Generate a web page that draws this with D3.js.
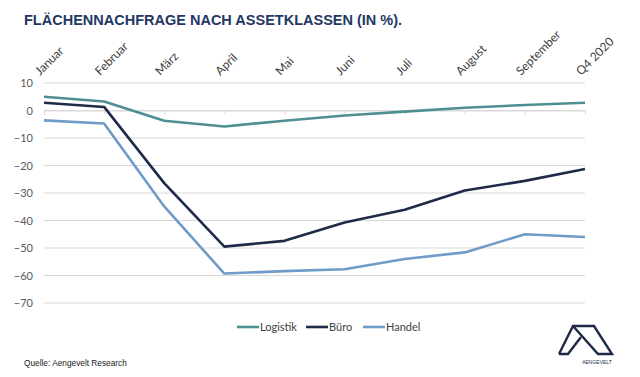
<!DOCTYPE html>
<html>
<head>
<meta charset="utf-8">
<script src="https://cdn.jsdelivr.net/npm/d3@7"></script>
<style>
  body { margin: 0; background: #fff; }
  svg { display: block; }
</style>
</head>
<body>
<div id="chart"></div>
<script>
// data
let months = ["Januar", "Februar", "März", "April", "Mai", "Juni", "Juli", "August", "September", "Q4 2020"];
let logistik = [5, 3.3, -3.7, -5.8, -3.7, -1.8, -0.4, 1, 2, 2.8];
let buero = [2.8, 1.3, -26.4, -49.5, -47.4, -40.7, -36.1, -29.1, -25.6, -21.3];
let handel = [-3.6, -4.7, -34.9, -59.3, -58.4, -57.7, -54, -51.6, -45, -46];
let yTicks = [10, 0, -10, -20, -30, -40, -50, -60, -70];

let seriesNames = ["Logistik", "Büro", "Handel"];
let colors = ["#4e8f91", "#1e2b48", "#6f9bc8"];

let w = 640;
let h = 377;

let svg = d3.select("#chart")
  .append("svg")
    .attr("width", w)
    .attr("height", h)
;

// title
svg.append("text")
  .attr("x", 24)
  .attr("y", 25)
  .style("font-family", "Liberation Sans, Arial, sans-serif")
  .style("font-weight", "bold")
  .style("font-size", "14.5px")
  .style("fill", "#1f3864")
  .text("FLÄCHENNACHFRAGE NACH ASSETKLASSEN (IN %).");

let x = d3.scalePoint()
  .domain(months)
  .range([44, 585]);

let y = d3.scaleLinear()
  .domain([-70, 10])
  .range([303, 83]);

// grid
svg.append("g")
  .selectAll("line")
  .data(yTicks)
  .enter()
  .append("line")
    .attr("x1", 44)
    .attr("x2", 585)
    .attr("y1", d => y(d))
    .attr("y2", d => y(d))
    .style("stroke", "#d9d9d9")
    .style("stroke-width", 1)
;

// y axis labels
let yAxis = svg.append("g")
  .attr("transform", "translate(33,0)")
  .call(d3.axisLeft(y).tickValues(yTicks).tickSize(0).tickPadding(0));
yAxis.select(".domain").remove();
yAxis.selectAll("text")
  .style("font-family", "Lato, sans-serif")
  .style("font-size", "11px")
  .style("fill", "#595959");

// category axis on the zero line
let xAxis = svg.append("g")
  .attr("transform", "translate(0," + y(0) + ")")
  .call(d3.axisBottom(x).tickSize(4).tickFormat(""));
xAxis.select(".domain").style("stroke", "#d9d9d9");
xAxis.selectAll(".tick line").style("stroke", "#d9d9d9");

// month labels at top, rotated
svg.append("g")
  .selectAll("text")
  .data(months)
  .enter()
  .append("text")
    .attr("transform", d => "translate(" + (x(d) - 4) + ",76) rotate(-45)")
    .style("font-family", "Lato, sans-serif")
    .style("font-size", "12px")
    .style("fill", "#404040")
    .text(d => d)
;

// lines
let line = d3.line()
  .x((d, i) => x(months[i]))
  .y(d => y(d));

let allSeries = [logistik, buero, handel];
svg.append("g")
  .selectAll("path")
  .data(allSeries)
  .enter()
  .append("path")
    .attr("d", line)
    .style("fill", "none")
    .style("stroke", (d, i) => colors[i])
    .style("stroke-width", 2.6)
    .style("stroke-linejoin", "round")
;

// legend
let legendX = [237, 306, 363];
let legend = svg.append("g")
  .selectAll("g")
  .data(seriesNames)
  .enter()
  .append("g")
    .attr("transform", (d, i) => "translate(" + legendX[i] + ",327)")
;
legend.append("line")
  .attr("x1", 0)
  .attr("x2", 22)
  .style("stroke", (d, i) => colors[i])
  .style("stroke-width", 2.6);
legend.append("text")
  .attr("x", 23)
  .attr("y", 4)
  .style("font-family", "Lato, sans-serif")
  .style("font-size", "11px")
  .style("fill", "#404040")
  .text(d => d);

// source
svg.append("text")
  .attr("x", 24)
  .attr("y", 366)
  .style("font-family", "Liberation Sans, Arial, sans-serif")
  .style("font-size", "8.3px")
  .style("fill", "#1a1a1a")
  .text("Quelle: Aengevelt Research");

// logo
let logo = svg.append("g")
  .style("fill", "none")
  .style("stroke", "#1e2b48")
  .style("stroke-width", 2.4)
  .style("stroke-linejoin", "miter");
logo.append("path")
  .attr("d", "M559,354 L573,326 L594,326 L612,354 L598,354 L573,326");
logo.append("path")
  .attr("d", "M559,354 L568,354 L581,337");
svg.append("text")
  .attr("x", 597)
  .attr("y", 364)
  .attr("text-anchor", "middle")
  .style("font-family", "Liberation Sans, Arial, sans-serif")
  .style("font-size", "5px")
  .style("fill", "#1e2b48")
  .text("AENGEVELT");
</script>
</body>
</html>
